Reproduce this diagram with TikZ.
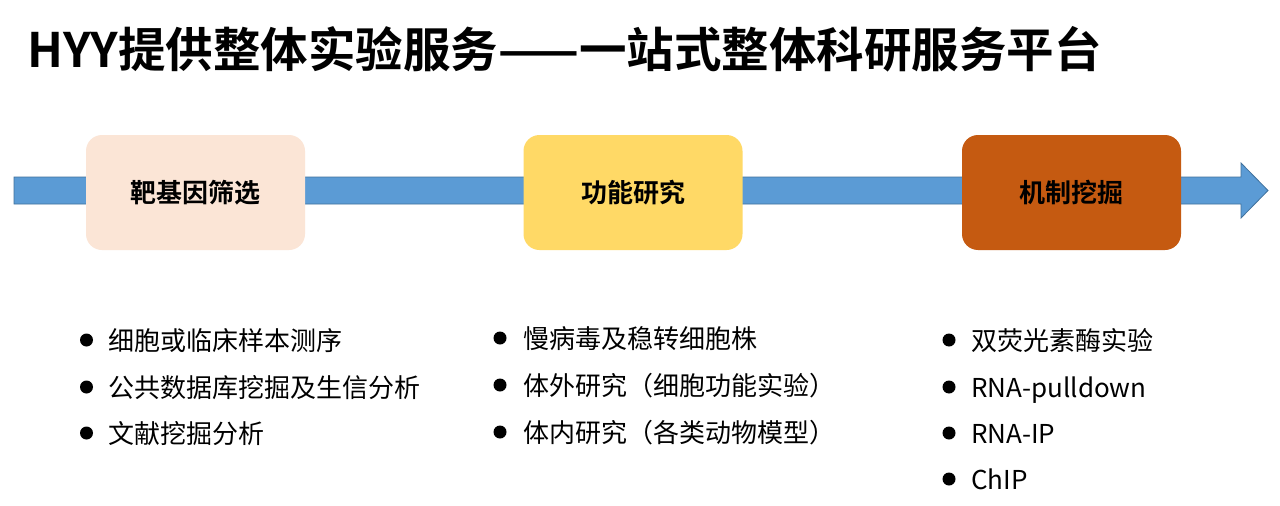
\documentclass[tikz,border=0pt]{standalone}
\usepackage{fontspec}
\setmainfont{Noto Sans CJK SC}
\newfontfamily\cjkbold{Noto Sans CJK SC Bold}
\newfontfamily\cjkreg{Noto Sans CJK SC}
\definecolor{arrowblue}{HTML}{5B9BD5}
\definecolor{arrowedge}{HTML}{41719C}
\definecolor{peach}{HTML}{FBE5D6}
\definecolor{gold}{HTML}{FFD966}
\definecolor{rust}{HTML}{C55A11}
\tikzset{
  stagebox/.style={draw=none, rounded corners=16pt, minimum width=219pt, minimum height=115pt, inner sep=0pt, font=\cjkbold\fontsize{26}{30}\selectfont, text=black},
  bulletdot/.style={circle, fill=black, minimum size=13pt, inner sep=0pt},
  itemtext/.style={anchor=base west, inner sep=0pt, font=\cjkreg\fontsize{26}{30}\selectfont, text=black},
}
\begin{document}
\begin{tikzpicture}[x=1pt,y=-1pt]
\useasboundingbox (0,0) rectangle (1280,506);
\fill[white] (0,0) rectangle (1280,506);
% title
\node[anchor=base west, inner sep=0pt, font=\cjkbold\fontsize{47.5}{52}\selectfont] (title) at (27,67.5) {HYY提供整体实验服务——一站式整体科研服务平台};
% arrow
\coordinate (astart) at (14,190.5);
\coordinate (atip) at (1268,190.5);
\draw[fill=arrowblue, draw=arrowedge, line width=0.8pt] (14,177) -- (1241,177) -- (1241,163) -- (1268,190.5) -- (1241,218) -- (1241,204) -- (14,204) -- cycle;
% boxes
\node[stagebox, fill=peach] (b1) at (195.5,192.5) {靶基因筛选};
\node[stagebox, fill=gold] (b2) at (633,192.5) {功能研究};
\node[stagebox, fill=rust] (b3) at (1071.5,192.5) {机制挖掘};
% list 1
\node[bulletdot] (d11) at (86.5,340) {};
\node[bulletdot] (d12) at (86.5,387) {};
\node[bulletdot] (d13) at (86.5,433) {};
\node[itemtext] (t11) at (108,350) {细胞或临床样本测序};
\node[itemtext] (t12) at (108,397) {公共数据库挖掘及生信分析};
\node[itemtext] (t13) at (108,443) {文献挖掘分析};
% list 2
\node[bulletdot] (d21) at (500,338) {};
\node[bulletdot] (d22) at (500,385) {};
\node[bulletdot] (d23) at (500,432) {};
\node[itemtext] (t21) at (523,348) {慢病毒及稳转细胞株};
\node[itemtext] (t22) at (523,395) {体外研究（细胞功能实验）};
\node[itemtext] (t23) at (523,442) {体内研究（各类动物模型）};
% list 3
\node[bulletdot] (d31) at (949,340) {};
\node[bulletdot] (d32) at (949,387) {};
\node[bulletdot] (d33) at (949,433) {};
\node[bulletdot] (d34) at (949,479) {};
\node[itemtext] (t31) at (971,350) {双荧光素酶实验};
\node[itemtext] (t32) at (971,397) {RNA-pulldown};
\node[itemtext] (t33) at (971,443) {RNA-IP};
\node[itemtext] (t34) at (971,489) {ChIP};
\end{tikzpicture}
\end{document}
